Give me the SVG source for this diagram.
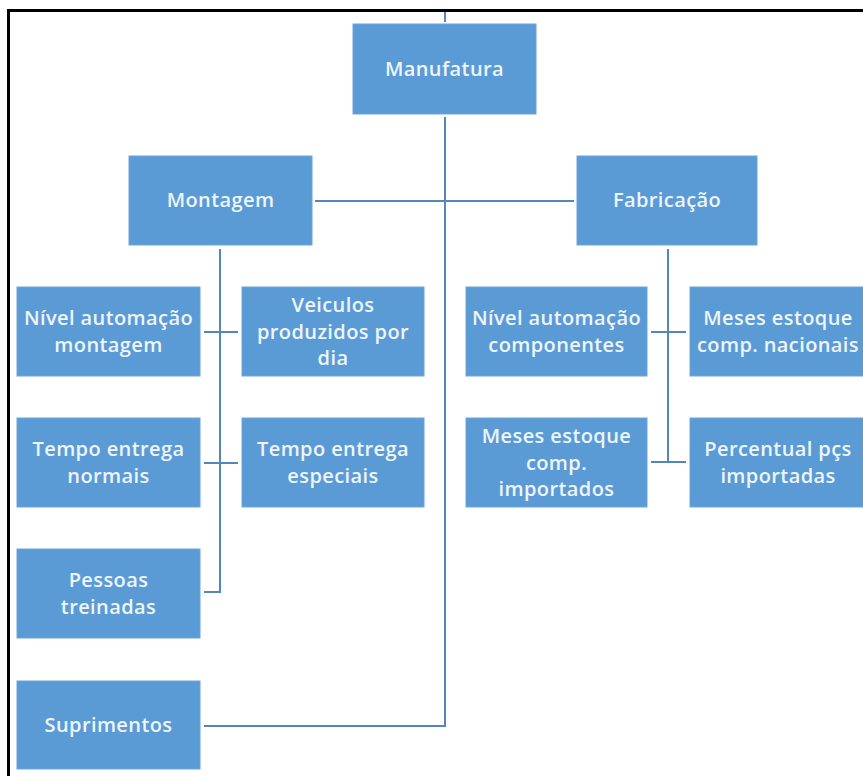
<svg xmlns="http://www.w3.org/2000/svg" width="863" height="776" viewBox="0 0 863 776">
  <style>
    .box { fill: #5b9bd5; stroke: #6aa5da; stroke-width: 1; }
    .lbl { font-family: "Open Sans", "Liberation Sans", sans-serif; font-weight: 600; font-size: 20px; letter-spacing: 0.4px; fill: #eef5fc; text-anchor: middle; }
    .wire { fill: none; stroke: #5585bd; stroke-width: 2; }
    .frame { fill: none; stroke: #000; stroke-width: 3; }
  </style>

  <rect width="863" height="776" fill="#ffffff"/>

  <!-- outer frame (top and left edges) -->
  <path class="frame" d="M8.5 776 V10.5 H863"/>

  <!-- connectors -->
  <g id="connectors">
    <path class="wire" d="M445 12 V22"/>
    <path class="wire" d="M445 117 V726 H204"/>
    <path class="wire" d="M315 201 H574"/>
    <path class="wire" d="M220 249 V592 H204"/>
    <path class="wire" d="M204 332 H238"/>
    <path class="wire" d="M204 463 H238"/>
    <path class="wire" d="M668 249 V462"/>
    <path class="wire" d="M651 332 H686"/>
    <path class="wire" d="M651 462 H686"/>
  </g>

  <g id="manufatura">
    <rect class="box" x="353" y="24" width="183" height="90"/>
    <text class="lbl" x="444.5" y="76">Manufatura</text>
  </g>

  <g id="montagem">
    <rect class="box" x="129" y="156" width="183" height="89"/>
    <text class="lbl" x="220.5" y="207">Montagem</text>
  </g>

  <g id="fabricacao">
    <rect class="box" x="577" y="156" width="180" height="89"/>
    <text class="lbl" x="667" y="207">Fabricação</text>
  </g>

  <g id="nivel-automacao-montagem">
    <rect class="box" x="17" y="287" width="183" height="89"/>
    <text class="lbl" x="108.5" y="325">Nível automação</text>
    <text class="lbl" x="108.5" y="352">montagem</text>
  </g>

  <g id="veiculos-produzidos">
    <rect class="box" x="242" y="287" width="182" height="89"/>
    <text class="lbl" x="333" y="312">Veiculos</text>
    <text class="lbl" x="333" y="339">produzidos por</text>
    <text class="lbl" x="333" y="365">dia</text>
  </g>

  <g id="tempo-entrega-normais">
    <rect class="box" x="17" y="418" width="183" height="89"/>
    <text class="lbl" x="108.5" y="456">Tempo entrega</text>
    <text class="lbl" x="108.5" y="483">normais</text>
  </g>

  <g id="tempo-entrega-especiais">
    <rect class="box" x="242" y="418" width="182" height="89"/>
    <text class="lbl" x="333" y="456">Tempo entrega</text>
    <text class="lbl" x="333" y="483">especiais</text>
  </g>

  <g id="pessoas-treinadas">
    <rect class="box" x="17" y="549" width="183" height="89"/>
    <text class="lbl" x="108.5" y="587">Pessoas</text>
    <text class="lbl" x="108.5" y="614">treinadas</text>
  </g>

  <g id="suprimentos">
    <rect class="box" x="17" y="681" width="183" height="88"/>
    <text class="lbl" x="108.5" y="732">Suprimentos</text>
  </g>

  <g id="nivel-automacao-componentes">
    <rect class="box" x="466" y="287" width="181" height="89"/>
    <text class="lbl" x="556.5" y="325">Nível automação</text>
    <text class="lbl" x="556.5" y="352">componentes</text>
  </g>

  <g id="meses-estoque-nacionais">
    <rect class="box" x="690" y="287" width="183" height="89"/>
    <text class="lbl" x="778" y="325">Meses estoque</text>
    <text class="lbl" x="778" y="352">comp. nacionais</text>
  </g>

  <g id="meses-estoque-importados">
    <rect class="box" x="466" y="418" width="181" height="89"/>
    <text class="lbl" x="556.5" y="443">Meses estoque</text>
    <text class="lbl" x="556.5" y="470">comp.</text>
    <text class="lbl" x="556.5" y="496">importados</text>
  </g>

  <g id="percentual-pcs-importadas">
    <rect class="box" x="690" y="418" width="183" height="89"/>
    <text class="lbl" x="778" y="456">Percentual pçs</text>
    <text class="lbl" x="778" y="483">importadas</text>
  </g>
</svg>
